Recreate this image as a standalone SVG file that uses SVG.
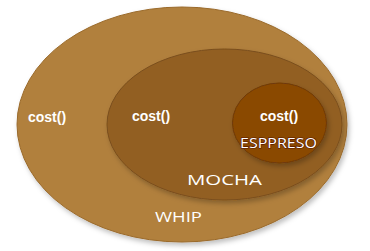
<svg xmlns="http://www.w3.org/2000/svg" width="370" height="251" viewBox="0 0 370 251">
<defs>
<filter id="sh" x="-10%" y="-10%" width="125%" height="125%">
<feDropShadow dx="2" dy="3" stdDeviation="2.5" flood-color="#000" flood-opacity="0.25"/>
</filter>
<style>
.cost{font-family:"Liberation Sans",Arial,sans-serif;font-weight:bold;font-size:14px;fill:#fff}
.lbl{font-family:"Open Sans","DejaVu Sans",sans-serif;font-weight:400;font-size:15px;fill:#fff}
</style>
</defs>
<rect width="370" height="251" fill="#fff"/>
<g id="whip">
<ellipse cx="182" cy="124.5" rx="165" ry="117.5" fill="#B1803C" stroke="#9a6a2c" stroke-width="1" filter="url(#sh)"/>
<text class="cost" x="28" y="122">cost()</text>
<text class="lbl" x="155" y="222" textLength="47" lengthAdjust="spacingAndGlyphs">WHIP</text>
</g>
<g id="mocha">
<ellipse cx="224.5" cy="124.5" rx="117.5" ry="75.5" fill="#925F23" stroke="#7a4e1c" stroke-width="1" filter="url(#sh)"/>
<text class="cost" x="132" y="121">cost()</text>
<text class="lbl" x="187" y="185" textLength="75" lengthAdjust="spacingAndGlyphs">MOCHA</text>
</g>
<g id="espresso">
<ellipse cx="279.5" cy="123" rx="47" ry="40" fill="#8A4806" stroke="#6f3a08" stroke-width="1" filter="url(#sh)"/>
<text class="cost" x="260" y="121">cost()</text>
<text class="lbl" x="240" y="148" textLength="77" lengthAdjust="spacingAndGlyphs" stroke="#5a1800" stroke-width="1.2" paint-order="stroke">ESPPRESO</text>
</g>
<g id="connectors"/>
</svg>
